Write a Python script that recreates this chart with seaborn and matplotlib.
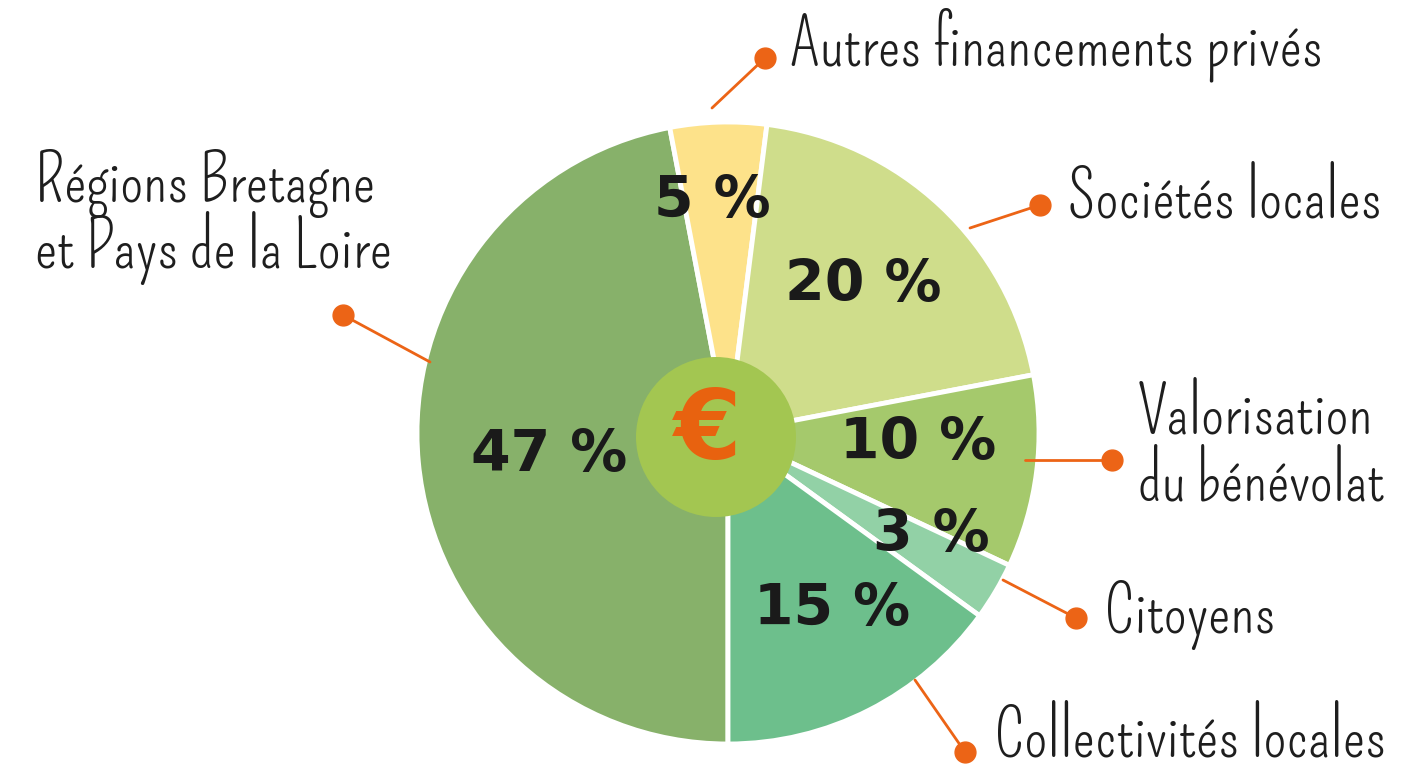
import matplotlib
matplotlib.use("Agg")
import matplotlib.pyplot as plt
import seaborn as sns
import numpy as np
from matplotlib.patches import Circle

sns.set_theme(style="white")
plt.rcParams['font.family'] = ['DejaVu Sans']

# ---- data ----
categories = ["Régions Bretagne\net Pays de la Loire", "Autres financements privés",
              "Sociétés locales", "Valorisation\ndu bénévolat", "Citoyens",
              "Collectivités locales"]
values = [47, 5, 20, 10, 3, 15]
pct_labels = ["47 %", "5 %", "20 %", "10 %", "3 %", "15 %"]
colors = ["#87b16a", "#fde28a", "#cfdd8b", "#a5c96c", "#92d1a6", "#6dbf8c"]

W, H = 1414, 775
fig = plt.figure(figsize=(W / 100, H / 100), dpi=100)
ax = fig.add_axes([0, 0, 1, 1])

def Y(y):
    return H - y

cx, cy, R = 728, Y(433), 311
wedges, _ = ax.pie(values, colors=colors, startangle=-90, counterclock=False,
                   center=(cx, cy), radius=R, frame=True,
                   wedgeprops=dict(edgecolor="white", linewidth=3.5))
ax.set_xlim(0, W)
ax.set_ylim(0, H)
ax.set_aspect("equal")
ax.axis("off")

# percent labels (layout positions in image pixels)
pct_pos = [(549, 455), (712, 201), (863, 285), (918, 443), (931, 536), (832, 610)]
for lab, (px, py) in zip(pct_labels, pct_pos):
    ax.text(px, Y(py), lab, ha="center", va="center", fontsize=41,
            fontweight="bold", color="#1a1a1a", zorder=5)

# center circle with euro
ax.add_patch(Circle((716, Y(437)), 80, facecolor="#a3c651", edgecolor="none", zorder=4))
ax.text(708, Y(432), "€", ha="center", va="center", fontsize=70,
        fontweight="bold", color="#e8620f", zorder=6)

# leader lines and category labels
orange = "#ec6416"
label_font = ['Pompiere', 'Barlow Condensed', 'DejaVu Sans']
# (line start, dot, text position)
leaders = [
    ((430, 362), (343, 315), (35, 215)),
    ((712, 108), (765, 58), (790, 45)),
    ((970, 228), (1040, 205), (1068, 197)),
    ((1025, 460), (1112, 460), (1138, 447)),
    ((1003, 580), (1076, 618), (1105, 613)),
    ((915, 680), (965, 752), (995, 736)),
]
for cat, (p0, p1, pt) in zip(categories, leaders):
    ax.plot([p0[0], p1[0]], [Y(p0[1]), Y(p1[1])], color=orange, lw=2, zorder=3)
    ax.plot(p1[0], Y(p1[1]), "o", color=orange, markersize=15, zorder=3)
    ax.text(pt[0], Y(pt[1]), cat, ha="left", va="center", fontsize=47,
            family=label_font, color="#1e1e1e", linespacing=0.88)

fig.savefig("out.png", dpi=100)
